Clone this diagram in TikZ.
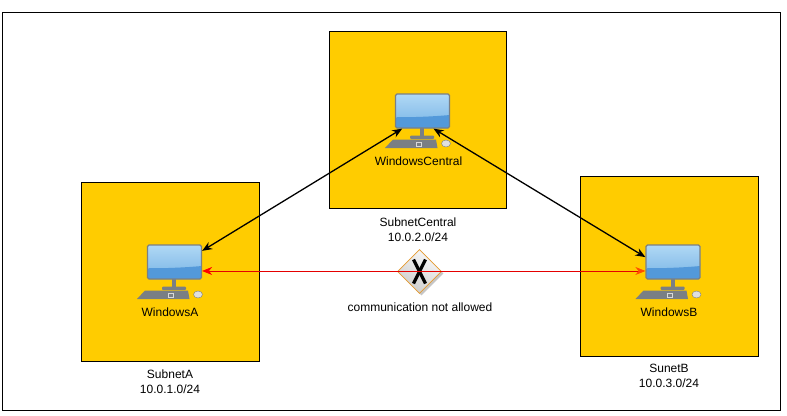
\documentclass[tikz,border=0pt]{standalone}
\usepackage{fontspec}
\setmainfont{Liberation Sans}
\usetikzlibrary{shapes.geometric,arrows.meta}
\definecolor{subnetyellow}{HTML}{FFCC00}
\definecolor{screenlight}{HTML}{B0D8F4}
\definecolor{screendark}{HTML}{78B4E6}
\definecolor{screenband}{HTML}{5399DA}
\definecolor{deskgray}{HTML}{7A7F84}
\definecolor{gateorange}{HTML}{E59A2F}
\tikzset{
    every node/.style={font=\fontsize{12}{15}\selectfont},
    subnet/.style={draw=black,fill=subnetyellow,inner sep=0pt},
    caption/.style={align=center,inner sep=0pt},
    screen/.style={
        draw=deskgray,line width=1.3pt,rounded corners=1.5pt,minimum width=54pt,minimum height=34pt,
        inner sep=0pt,top color=screenlight,bottom color=screendark,
        path picture={
            \fill[screenband] (path picture bounding box.south west) -- ++(0,11pt)
            .. controls +(20pt,-1pt) and +(36pt,-3pt) .. ([yshift=17pt]path picture bounding box.south east)
            -- (path picture bounding box.south east) -- cycle;
        }
    },
    gate/.style={diamond,draw=gateorange,line width=0.8pt,inner sep=0pt,minimum width=44pt,minimum height=44pt,
        top color=white!95!gray,bottom color=gray!40,shading angle=-30},
    gateshadow/.style={diamond,fill=gray!45,inner sep=0pt,minimum width=44pt,minimum height=44pt},
    link/.style={black,line width=1.3pt,{Stealth[length=10pt,width=8pt]}-{Stealth[length=10pt,width=8pt]}},
    nolink/.style={red!90!black,line width=0.7pt,{Stealth[length=10pt,width=8pt,red]}-{Stealth[length=10pt,width=8pt,orange!60!red]}},
    pics/desk/.style={code={
        \fill[deskgray] (-2.5,17) rectangle (1.5,25);
        \fill[deskgray,rounded corners=1pt] (-12.5,24.5) rectangle (11.5,28);
        \fill[deskgray] (-29.5,28.5) -- (13.5,28.5) -- (15,37) -- (-37.5,37) -- cycle;
        \draw[gray!30,line width=0.5pt] (-6,31) rectangle (-1,35);
        \fill[gray!25,draw=deskgray,line width=0.4pt] (23.5,32.5) ellipse (4.5 and 3.5);
    }},
}
\begin{document}
\begin{tikzpicture}[x=1pt,y=-1pt]
\useasboundingbox[fill=white] (0,0) rectangle (787,415);
\draw[black] (2,12) rectangle (780,410);
% subnets
\node[subnet,minimum width=178pt,minimum height=179pt] (boxA) at (170,271.5) {};
\node[subnet,minimum width=177pt,minimum height=177pt] (boxCentral) at (418,119.5) {};
\node[subnet,minimum width=178pt,minimum height=180pt] (boxB) at (669,266) {};
% computers
\pic at (174.5,262) {desk};
\pic at (422.5,111) {desk};
\pic at (673,262) {desk};
\node[screen] (pcA) at (174.5,262) {};
\node[screen] (pcCentral) at (422.5,111) {};
\node[screen] (pcB) at (673,262) {};
\node[caption] (nameA) at (170,312) {WindowsA};
\node[caption] (nameCentral) at (418.5,161) {WindowsCentral};
\node[caption] (nameB) at (669,312) {WindowsB};
\node[caption] (labelA) at (170,382) {SubnetA\\10.0.1.0/24};
\node[caption] (labelCentral) at (418,229.5) {SubnetCentral\\10.0.2.0/24};
\node[caption] (labelB) at (669,376) {SunetB\\10.0.3.0/24};
% gateway
\node[gateshadow] (shadowX) at (421.5,273.5) {};
\node[gate] (gateX) at (419.5,271.5) {};
\draw[black,line width=3.2pt] (gateX.center) ++(-6,-12) -- ++(12,24);
\draw[black,line width=3.2pt] (gateX.center) ++(6,-12) -- ++(-12,24);
\node[caption] (gateText) at (420,307.5) {communication not allowed};
% links
\draw[link] (pcCentral.221) -- (pcA.22);
\draw[link] (pcCentral.302) -- (pcB.170);
\draw[nolink] (pcA.-18) -- (pcB.198);
\end{tikzpicture}
\end{document}
